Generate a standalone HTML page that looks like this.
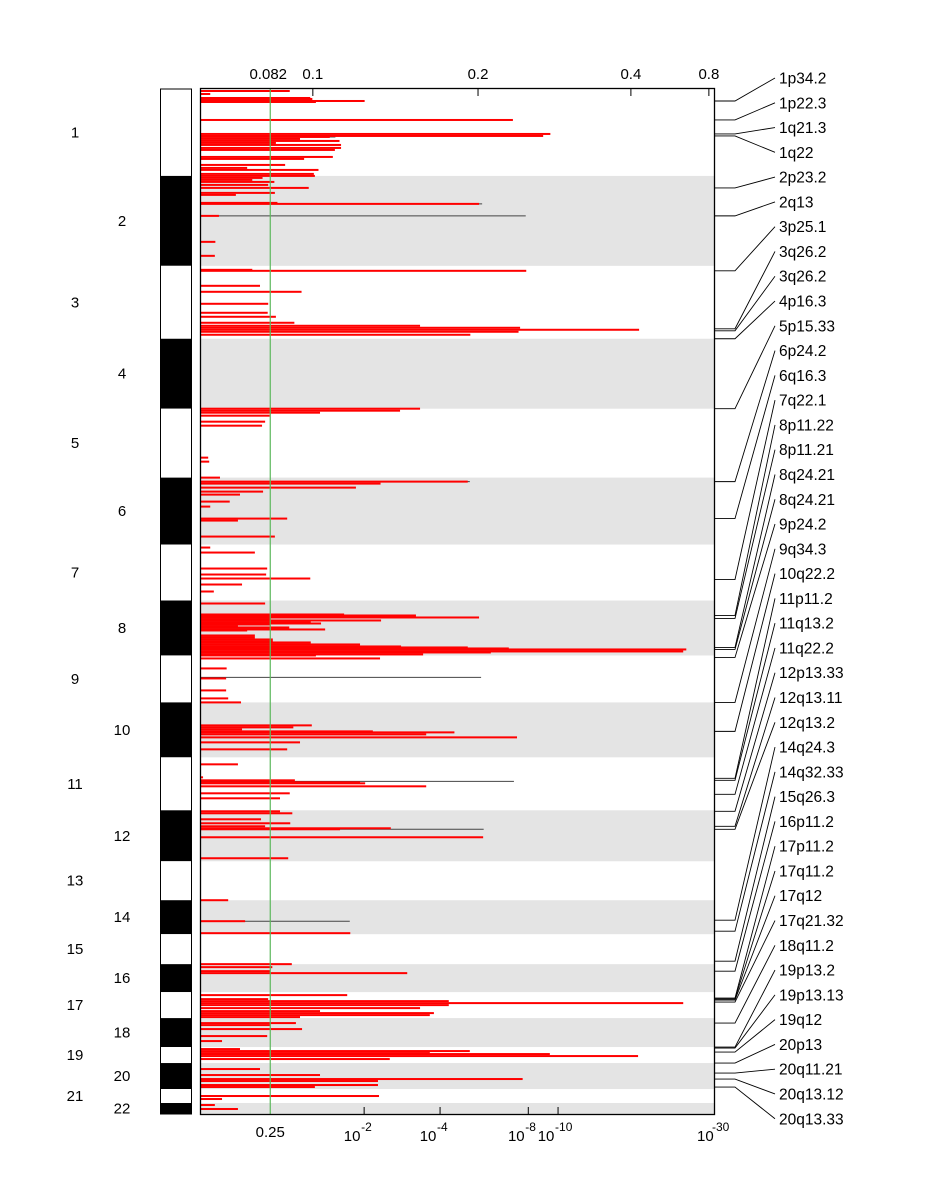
<!DOCTYPE html>
<html><head><meta charset="utf-8"><style>
html,body{margin:0;padding:0;background:#fff;}
svg{display:block;font-family:"Liberation Sans",sans-serif;}
</style></head><body>
<svg id="chart" width="948" height="1200" viewBox="0 0 948 1200" xmlns="http://www.w3.org/2000/svg"></svg>
<script>
// chromosome boundaries (genomic index units, top to bottom)
const chromNames = ["1","2","3","4","5","6","7","8","9","10","11","12","13","14","15","16","17","18","19","20","21","22"];
const chromStarts = [0,87,177,250,320,389,456,512,567,614,669,722,773,812,846,876,904,930,959,975,1001,1015];
const chromEnd = 1026;
// bars: genomic position, score (axis fraction units 0..1)
const barPos = [2,5,9,10,12,13,31,45,47,48,50,52,54,56,59,61,68,70,76,79,81,85,87,
89,91,93,96,99,104,106,114,115,127,153,167,
181,182,197,203,215,224,228,234,237,239,241,243,246,
320,322,324,327,333,337,369,373,
389,393,395,399,403,406,413,418,430,432,448,
459,464,480,486,490,496,503,
515,526,527,528,529,531,532,534,535,536,538,539,541,542,547,549,551,553,554,556,558,559,560,561,563,564,566,567,570,
580,590,602,610,614,
637,639,641,643,644,646,649,654,661,
676,689,692,694,695,698,705,710,
723,725,731,735,738,740,741,749,770,
812,833,845,
876,879,883,885,
907,911,913,915,917,920,923,925,927,929,
935,937,941,948,953,
961,963,965,966,968,971,
981,987,991,993,997,999,
1008,1011,1017,1021];
const barVal = [0.173,0.018,0.213,0.217,0.319,0.224,0.608,0.681,0.667,0.251,0.193,0.27,0.146,0.273,0.273,0.261,0.257,0.201,0.164,0.09,0.229,0.22,0.222,
0.12,0.1,0.143,0.131,0.21,0.144,0.068,0.149,0.542,0.035,0.028,0.027,
0.1,0.634,0.115,0.196,0.131,0.13,0.146,0.182,0.427,0.622,0.854,0.619,0.525,
0.427,0.388,0.232,0.134,0.125,0.119,0.014,0.016,
0.037,0.52,0.35,0.302,0.121,0.076,0.056,0.018,0.168,0.072,0.144,
0.018,0.105,0.129,0.127,0.213,0.08,0.025,
0.125,0.279,0.419,0.35,0.542,0.136,0.351,0.214,0.234,0.135,0.072,0.172,0.242,0.09,0.105,0.105,0.14,0.14,0.214,0.31,0.39,0.52,0.6,0.946,0.94,0.565,0.433,0.224,0.349,0.05,
0.049,0.049,0.053,0.078,0.216,
0.18,0.08,0.335,0.494,0.439,0.616,0.193,0.168,0.072,
0.004,0.183,0.31,0.32,0.439,0.173,0.154,0.154,
0.178,0.117,0.174,0.125,0.37,0.271,0.55,0.17,0.053,
0.086,0.291,0.177,
0.139,0.135,0.402,0.285,
0.131,0.483,0.94,0.483,0.427,0.232,0.454,0.446,0.193,0.185,
0.135,0.197,0.129,0.041,0.076,
0.524,0.446,0.68,0.852,0.368,0.115,
0.232,0.627,0.345,0.345,0.222,0.347,
0.041,0.027,0.072,0.072];
// thin gray q-value lines: position, value
const qPos = [48,115,127,393,589,693,741,833];
const qVal = [0.262,0.548,0.633,0.524,0.546,0.61,0.551,0.29];
// top axis (G-score) ticks
const topTickVal = [0.218,0.54,0.838,0.99];
const topTickLab = ["0.1","0.2","0.4","0.8"];
// bottom axis (q-value) ticks
const botTickVal = [0.318,0.466,0.638,0.696];
const botTickLab = [["10","-2"],["10","-4"],["10","-8"],["10","-10"]];
// significance threshold (fraction)
const threshVal = 0.135;
// peak annotations
const peakNames = ["1p34.2","1p22.3","1q21.3","1q22","2p23.2","2q13","3p25.1","3q26.2","3q26.2","4p16.3","5p15.33","6p24.2","6q16.3","7q22.1","8p11.22","8p11.21","8q24.21","8q24.21","9p24.2","9q34.3","10q22.2","11p11.2","11q13.2","11q22.2","12p13.33","12q13.11","12q13.2","14q24.3","14q32.33","15q26.3","16p11.2","17p11.2","17q11.2","17q12","17q21.32","18q11.2","19p13.2","19p13.13","19q12","20p13","20q11.21","20q13.12","20q13.33"];
const peakPos = [12,31,45,47,99,127,182,240,242,250,320,393,430,491,527,530,559,561,569,614,643,690,692,706,723,738,741,832,843,873,883,910,911,912,914,935,959,960,964,975,985,991,999];

const svg = document.getElementById('chart');
const NS = 'http://www.w3.org/2000/svg';
const X0 = 201, X1 = 714, Y0 = 89, Y1 = 1114;
const xs = v => X0 + v * (X1 - X0);
const ys = p => Y0 + p / chromEnd * (Y1 - Y0);
function mk(tag, attrs, parent) {
  const e = document.createElementNS(NS, tag);
  for (const k in attrs) e.setAttribute(k, attrs[k]);
  (parent || svg).appendChild(e);
  return e;
}
// bands + chromosome bar + labels
chromNames.forEach((c, i) => {
  const a = ys(chromStarts[i]);
  const b = ys(i + 1 < chromStarts.length ? chromStarts[i + 1] : chromEnd);
  if (i % 2 === 1) {
    const band = mk('rect', {x: X0, y: a, width: X1 - X0, height: b - a, fill: '#e4e4e4'});
    
    
  }
  const seg = mk('rect', {x: 160.5, y: a, width: 31, height: b - a, fill: i % 2 === 1 ? '#000' : '#fff'});
  
  
  const t = mk('text', {x: i % 2 === 0 ? 75 : 122, y: (a + b) / 2 + 5, 'font-size': 15, 'text-anchor': 'middle'});
  t.textContent = c;
  
  
});
const cb = mk('rect', {x: 160.5, y: Y0, width: 31, height: Y1 - Y0, fill: 'none', stroke: '#000', 'stroke-width': 1});


// q lines
qPos.forEach((p, i) => {
  const l = mk('line', {x1: X0, x2: xs(qVal[i]), y1: ys(p), y2: ys(p), stroke: '#444', 'stroke-width': 1});
  
  
});
// bars
barPos.forEach((p, i) => {
  const r = mk('rect', {x: X0, y: ys(p) - 1, width: xs(barVal[i]) - X0, height: 2, fill: '#ff0000'});
  
  
});
// threshold
const th = mk('line', {x1: xs(threshVal), x2: xs(threshVal), y1: Y0, y2: Y1, stroke: '#5cb85c', 'stroke-width': 1.2});


// frame
const fr = mk('rect', {x: X0 - 0.5, y: Y0 - 0.5, width: X1 - X0 + 1, height: Y1 - Y0 + 1, fill: 'none', stroke: '#000', 'stroke-width': 1.3});


// top ticks
topTickVal.forEach((v, i) => {
  const l = mk('line', {x1: xs(v), x2: xs(v), y1: Y0, y2: Y0 + 7, stroke: '#000'});
  
  
  const t = mk('text', {x: xs(v), y: 79, 'font-size': 15, 'text-anchor': 'middle'});
  t.textContent = topTickLab[i];
  
  
});
const t082 = mk('text', {x: xs(threshVal) - 2, y: 79, 'font-size': 15, 'text-anchor': 'middle'});
t082.textContent = '0.082';


// bottom ticks
botTickVal.forEach((v, i) => {
  const l = mk('line', {x1: xs(v), x2: xs(v), y1: Y1, y2: Y1 - 7, stroke: '#000'});
  
  
  const t = mk('text', {x: xs(v) - 12, y: 1141, 'font-size': 15, 'text-anchor': 'middle'});
  t.textContent = botTickLab[i][0];
  
  
  const s = mk('text', {x: xs(v) - 3, y: 1131, 'font-size': 12});
  s.textContent = botTickLab[i][1];
  
  
});
const t25 = mk('text', {x: xs(threshVal), y: 1137, 'font-size': 15, 'text-anchor': 'middle'});
t25.textContent = '0.25';


const t30 = mk('text', {x: 697, y: 1141, 'font-size': 15});
t30.textContent = '10';


const t30e = mk('text', {x: 712, y: 1131, 'font-size': 12});
t30e.textContent = '-30';


// peak annotations
peakNames.forEach((n, i) => {
  const py = ys(peakPos[i]);
  const ly = 78 + i * 24.78;
  const pl = mk('polyline', {points: `${X1},${py} ${X1 + 21},${py} ${775},${ly}`, fill: 'none', stroke: '#000', 'stroke-width': 0.9});
  
  
  const t = mk('text', {x: 779, y: ly + 5.5, 'font-size': 15.5});
  t.textContent = n;
  
  
});
</script>
</body></html>
